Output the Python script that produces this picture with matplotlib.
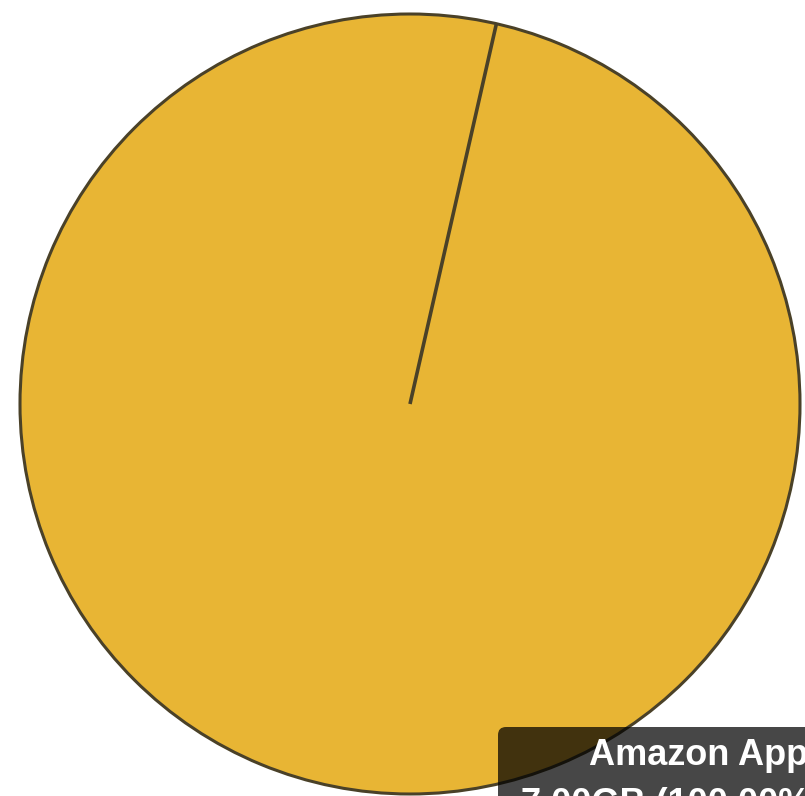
import numpy as np
import matplotlib.pyplot as plt
from matplotlib.patches import FancyBboxPatch

# data
labels = ['Amazon Appstore']
sizes_gb = [7.00]
colors = ['#E8B534']

W, H = 805, 796
fig = plt.figure(figsize=(W / 100, H / 100), dpi=100)
ax = fig.add_axes([0, 0, 1, 1])
ax.set_xlim(0, W)
ax.set_ylim(0, H)
ax.set_aspect('equal')
ax.axis('off')

edge = '#4a4128'
wedges, _ = ax.pie(sizes_gb, colors=colors, center=(410, H - 404), radius=390,
                   startangle=77.2, counterclock=False,
                   wedgeprops=dict(edgecolor=edge, linewidth=2.2))
ax.set_xlim(0, W)
ax.set_ylim(0, H)

# a full-circle wedge has no radial edge in matplotlib, so draw the seam
w = wedges[0]
cx, cy = w.center
ang = np.deg2rad(w.theta1)
ax.plot([cx, cx + w.r * np.cos(ang)], [cy, cy + w.r * np.sin(ang)],
        color=edge, lw=2.6, solid_capstyle='butt', zorder=3)

# tooltip, cut off by the figure edge as in the screenshot
total = sum(sizes_gb)
box = FancyBboxPatch((498, -40), 400, H - 727 + 40,
                     boxstyle='round,pad=0,rounding_size=8',
                     facecolor='black', alpha=0.72, edgecolor='none',
                     zorder=5)
ax.add_patch(box)
ax.text(589, H - 765, labels[0], color='white', fontsize=26, weight='bold',
        family='Liberation Sans', ha='left', va='baseline', zorder=6)
ax.text(521, H - 814, f'{sizes_gb[0]:.2f}GB ({sizes_gb[0] / total * 100:.2f}%)',
        color='white', fontsize=26, weight='bold', family='Liberation Sans',
        ha='left', va='baseline', zorder=6)

fig.savefig('out.png', dpi=100)
